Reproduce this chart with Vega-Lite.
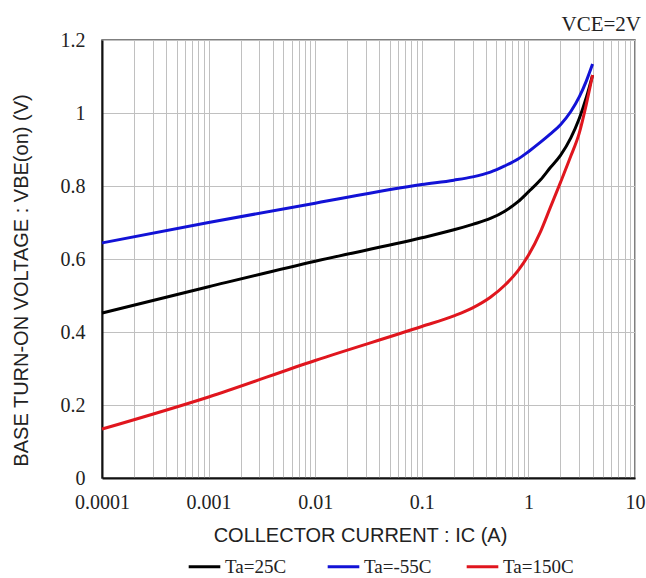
{
  "$schema": "https://vega.github.io/schema/vega-lite/v6.json",
  "width": 533,
  "height": 438,
  "autosize": {"type": "none"},
  "padding": {"left": 102, "top": 40, "right": 11, "bottom": 100},
  "background": "white",
  "title": {"text": "VCE=2V", "anchor": "end", "font": "Liberation Serif", "fontSize": 21, "fontWeight": "normal", "color": "#222222", "offset": 9, "dy": 14, "dx": -4},
  "config": {"view": {"stroke": "#555555", "strokeWidth": 1.5}},
  "data": {"values": [
    {"series": "Ta=25C", "ic": 0.0001, "vbe": 0.452},
    {"series": "Ta=25C", "ic": 0.001, "vbe": 0.524},
    {"series": "Ta=25C", "ic": 0.01, "vbe": 0.594},
    {"series": "Ta=25C", "ic": 0.1, "vbe": 0.658},
    {"series": "Ta=25C", "ic": 0.2, "vbe": 0.68},
    {"series": "Ta=25C", "ic": 0.3, "vbe": 0.695},
    {"series": "Ta=25C", "ic": 0.44, "vbe": 0.711},
    {"series": "Ta=25C", "ic": 0.6, "vbe": 0.731},
    {"series": "Ta=25C", "ic": 0.8, "vbe": 0.757},
    {"series": "Ta=25C", "ic": 1, "vbe": 0.784},
    {"series": "Ta=25C", "ic": 1.3, "vbe": 0.817},
    {"series": "Ta=25C", "ic": 1.6, "vbe": 0.85},
    {"series": "Ta=25C", "ic": 2, "vbe": 0.884},
    {"series": "Ta=25C", "ic": 2.5, "vbe": 0.932},
    {"series": "Ta=25C", "ic": 3, "vbe": 0.985},
    {"series": "Ta=25C", "ic": 3.5, "vbe": 1.043},
    {"series": "Ta=25C", "ic": 4, "vbe": 1.104},
    {"series": "Ta=-55C", "ic": 0.0001, "vbe": 0.644},
    {"series": "Ta=-55C", "ic": 0.001, "vbe": 0.7},
    {"series": "Ta=-55C", "ic": 0.01, "vbe": 0.753},
    {"series": "Ta=-55C", "ic": 0.1, "vbe": 0.804},
    {"series": "Ta=-55C", "ic": 0.2, "vbe": 0.816},
    {"series": "Ta=-55C", "ic": 0.3, "vbe": 0.825},
    {"series": "Ta=-55C", "ic": 0.44, "vbe": 0.838},
    {"series": "Ta=-55C", "ic": 0.6, "vbe": 0.855},
    {"series": "Ta=-55C", "ic": 0.8, "vbe": 0.874},
    {"series": "Ta=-55C", "ic": 1, "vbe": 0.894},
    {"series": "Ta=-55C", "ic": 1.3, "vbe": 0.92},
    {"series": "Ta=-55C", "ic": 1.6, "vbe": 0.942},
    {"series": "Ta=-55C", "ic": 2, "vbe": 0.968},
    {"series": "Ta=-55C", "ic": 2.5, "vbe": 1.004},
    {"series": "Ta=-55C", "ic": 3, "vbe": 1.044},
    {"series": "Ta=-55C", "ic": 3.5, "vbe": 1.088},
    {"series": "Ta=-55C", "ic": 4, "vbe": 1.134},
    {"series": "Ta=150C", "ic": 0.0001, "vbe": 0.134},
    {"series": "Ta=150C", "ic": 0.001, "vbe": 0.222},
    {"series": "Ta=150C", "ic": 0.01, "vbe": 0.322},
    {"series": "Ta=150C", "ic": 0.1, "vbe": 0.415},
    {"series": "Ta=150C", "ic": 0.2, "vbe": 0.444},
    {"series": "Ta=150C", "ic": 0.3, "vbe": 0.466},
    {"series": "Ta=150C", "ic": 0.44, "vbe": 0.495},
    {"series": "Ta=150C", "ic": 0.6, "vbe": 0.528},
    {"series": "Ta=150C", "ic": 0.8, "vbe": 0.568},
    {"series": "Ta=150C", "ic": 1, "vbe": 0.61},
    {"series": "Ta=150C", "ic": 1.3, "vbe": 0.675},
    {"series": "Ta=150C", "ic": 1.6, "vbe": 0.74},
    {"series": "Ta=150C", "ic": 2, "vbe": 0.81},
    {"series": "Ta=150C", "ic": 2.5, "vbe": 0.882},
    {"series": "Ta=150C", "ic": 3, "vbe": 0.945},
    {"series": "Ta=150C", "ic": 3.5, "vbe": 1.025},
    {"series": "Ta=150C", "ic": 4, "vbe": 1.104}
  ]},
  "mark": {"type": "line", "interpolate": "monotone", "strokeWidth": 3},
  "encoding": {
    "x": {
      "field": "ic", "type": "quantitative",
      "scale": {"type": "log", "domain": [0.0001, 10]},
      "axis": {
        "values": [0.0001, 0.0002, 0.0003, 0.0004, 0.0005, 0.0006, 0.0007, 0.0008, 0.0009, 0.001, 0.002, 0.003, 0.004, 0.005, 0.006, 0.007, 0.008, 0.009, 0.01, 0.02, 0.03, 0.04, 0.05, 0.06, 0.07, 0.08, 0.09, 0.1, 0.2, 0.3, 0.4, 0.5, 0.6, 0.7, 0.8, 0.9, 1, 2, 3, 4, 5, 6, 7, 8, 9, 10],
        "labelExpr": "indexof([0.0001, 0.001, 0.01, 0.1, 1, 10], datum.value) >= 0 ? '' + datum.value : ''",
        "ticks": false,
        "labelFlush": false,
        "labelOverlap": false,
        "labelFont": "Liberation Serif",
        "labelFontSize": 20,
        "labelColor": "#222222",
        "labelPadding": 14,
        "grid": true,
        "gridColor": "#c0c0c0",
        "gridWidth": 1,
        "domainColor": "#111111",
        "domainWidth": 2,
        "title": "COLLECTOR CURRENT : IC (A)",
        "titleFont": "Liberation Sans",
        "titleFontSize": 20,
        "titleFontWeight": "normal",
        "titleColor": "#222222",
        "titlePadding": 13,
        "titleX": 258
      }
    },
    "y": {
      "field": "vbe", "type": "quantitative",
      "scale": {"domain": [0, 1.2], "nice": false},
      "axis": {
        "values": [0, 0.2, 0.4, 0.6, 0.8, 1, 1.2],
        "format": ".1~f",
        "ticks": false,
        "labelFont": "Liberation Serif",
        "labelFontSize": 20,
        "labelColor": "#222222",
        "labelPadding": 17,
        "grid": true,
        "gridColor": "#c0c0c0",
        "gridWidth": 1,
        "domainColor": "#111111",
        "domainWidth": 2,
        "title": "BASE TURN-ON VOLTAGE : VBE(on) (V)",
        "titleFont": "Liberation Sans",
        "titleFontSize": 20,
        "titleFontWeight": "normal",
        "titleColor": "#222222",
        "titlePadding": 29,
        "titleY": 240
      }
    },
    "color": {
      "field": "series", "type": "nominal",
      "scale": {"domain": ["Ta=25C", "Ta=-55C", "Ta=150C"], "range": ["#000000", "#1212d6", "#e0161e"]},
      "legend": {
        "orient": "none",
        "legendX": 85,
        "legendY": 509,
        "direction": "horizontal",
        "columns": 3,
        "gridAlign": "all",
        "title": null,
        "symbolType": "stroke",
        "symbolSize": 1000,
        "symbolStrokeWidth": 3,
        "labelFont": "Liberation Serif",
        "labelFontSize": 19,
        "labelColor": "#222222",
        "labelOffset": 3,
        "columnPadding": 25,
        "padding": 0
      }
    }
  }
}
